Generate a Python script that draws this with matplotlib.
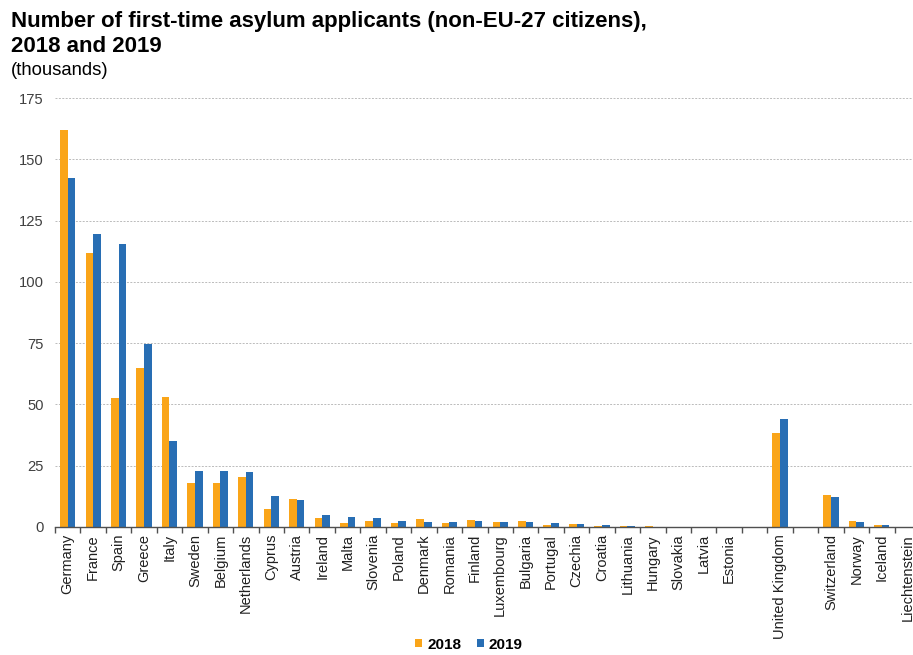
import matplotlib
matplotlib.use("Agg")
import matplotlib.pyplot as plt
import numpy as np
from matplotlib.patches import Patch

plt.rcParams['font.family'] = ['Liberation Sans', 'DejaVu Sans']

countries = ["Germany", "France", "Spain", "Greece", "Italy", "Sweden", "Belgium",
             "Netherlands", "Cyprus", "Austria", "Ireland", "Malta", "Slovenia", "Poland",
             "Denmark", "Romania", "Finland", "Luxembourg", "Bulgaria", "Portugal",
             "Czechia", "Croatia", "Lithuania", "Hungary", "Slovakia", "Latvia", "Estonia",
             "", "United Kingdom", "", "Switzerland", "Norway", "Iceland", "Liechtenstein"]
v2018 = [161.8, 111.6, 52.8, 64.9, 53.2, 18.0, 18.0, 20.4, 7.5, 11.6, 3.6, 1.6, 2.4, 1.8,
         3.1, 1.6, 2.7, 2.0, 2.3, 0.9, 1.2, 0.6, 0.3, 0.6, 0.2, 0.2, 0.1,
         np.nan, 38.4, np.nan, 13.1, 2.3, 0.7, 0.0]
v2019 = [142.4, 119.7, 115.4, 74.8, 35.1, 23.0, 23.0, 22.6, 12.8, 10.9, 4.8, 3.9, 3.5, 2.4,
         2.2, 2.2, 2.3, 2.0, 1.9, 1.6, 1.2, 1.0, 0.6, 0.1, 0.2, 0.2, 0.1,
         np.nan, 43.9, np.nan, 12.2, 1.9, 0.7, 0.0]
series_labels = ["2018", "2019"]
yticks = [0, 25, 50, 75, 100, 125, 150, 175]

c2018 = "#FAA519"
c2019 = "#286EB4"

W, H = 913, 655
fig = plt.figure(figsize=(W / 100, H / 100), dpi=100)
ax_left, ax_right, ax_bottom, ax_top = 55, 920, 527, 98
ax = fig.add_axes([ax_left / W, 1 - ax_bottom / H, (ax_right - ax_left) / W,
                   (ax_bottom - ax_top) / H])

x = np.arange(len(countries))
bw = 0.30
ax.bar(x - bw / 2, v2018, width=bw, color=c2018, edgecolor="none", zorder=3)
ax.bar(x + bw / 2, v2019, width=bw, color=c2019, edgecolor="none", zorder=3)

ax.set_xlim(-0.5, len(countries) - 0.5)
ax.set_ylim(0, 175)
ax.set_yticks(yticks)
ax.set_yticklabels([str(t) for t in yticks], fontsize=10.6, color="#404040")
ax.tick_params(axis="y", length=0, pad=8)

ax.set_xticks(x)
ax.set_xticklabels(countries, rotation=90, fontsize=10.5, color="#202020")
ax.tick_params(axis="x", which="major", length=0, pad=5)
ax.set_xticks(np.arange(len(countries) + 1) - 0.5, minor=True)
ax.tick_params(axis="x", which="minor", length=4, width=1, color="#505050", direction="out")

ax.grid(axis="y", linestyle=(0, (2, 1.5)), color="#bbbbbb", linewidth=0.7, zorder=0)
for s in ["left", "right", "top"]:
    ax.spines[s].set_visible(False)
ax.spines["bottom"].set_color("#505050")
ax.spines["bottom"].set_linewidth(1.0)
ax.spines["bottom"].set_zorder(4)

fig.text(11 / W, 1 - 27 / H, "Number of first-time asylum applicants (non-EU-27 citizens),",
         fontsize=16, fontweight="bold", va="baseline", ha="left")
fig.text(11 / W, 1 - 52.5 / H, "2018 and 2019", fontsize=16, fontweight="bold",
         va="baseline", ha="left")
fig.text(11 / W, 1 - 75 / H, "(thousands)", fontsize=13.3, va="baseline", ha="left")

handles = [Patch(facecolor=c2018, label=series_labels[0]),
           Patch(facecolor=c2019, label=series_labels[1])]
fig.legend(handles=handles, loc="lower center", bbox_to_anchor=(469 / W, -0.016), ncol=2,
           frameon=False, handlelength=0.45, handleheight=0.45, handletextpad=0.35,
           columnspacing=1.0, prop={"weight": "bold", "size": 11})

fig.savefig("out.png", dpi=100)
